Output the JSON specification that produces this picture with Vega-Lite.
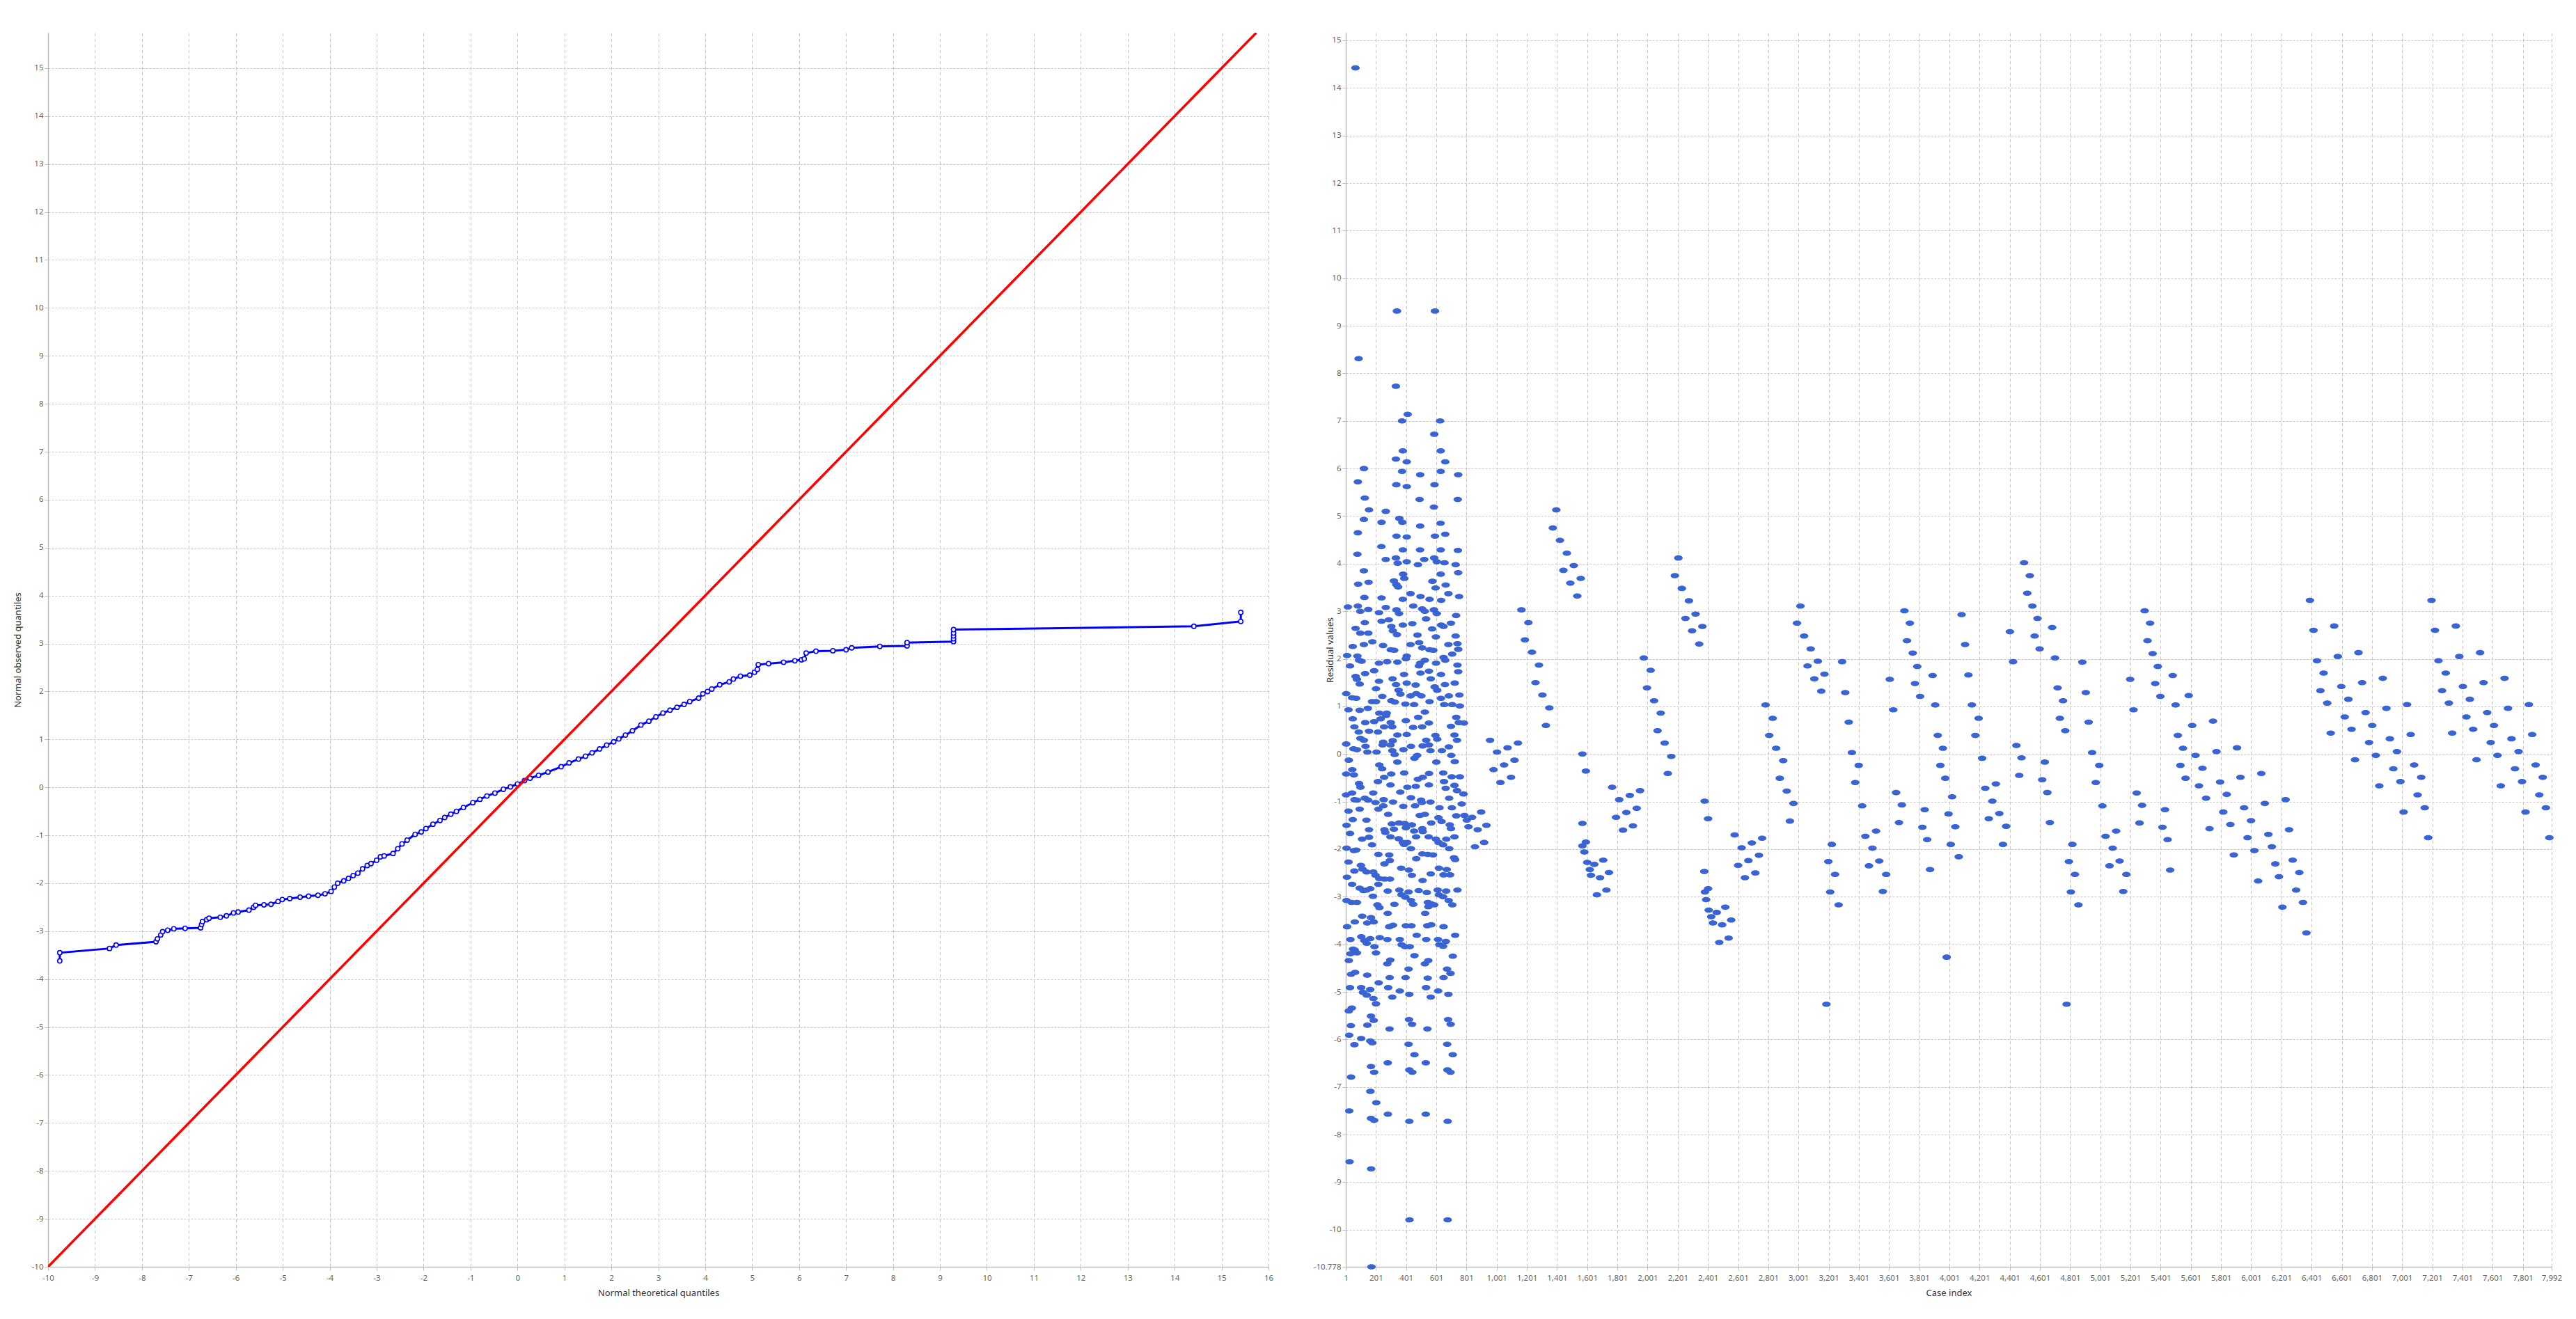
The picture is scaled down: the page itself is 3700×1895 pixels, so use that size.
{
  "$schema": "https://vega.github.io/schema/vega-lite/v6.json",
  "background": "white",
  "padding": {"left": 19, "top": 47, "right": 10, "bottom": 5},
  "spacing": 111,
  "bounds": "flush",
  "config": {
    "view": {"stroke": null},
    "axis": {
      "grid": true,
      "gridColor": "#c8c8c8",
      "gridWidth": 1,
      "domainColor": "#bbbbbb",
      "domainWidth": 1.5,
      "tickColor": "#bbbbbb",
      "tickSize": 5,
      "labelFont": "Noto Sans",
      "labelFontSize": 11.5,
      "labelColor": "#666666",
      "labelOverlap": false,
      "labelFlush": false,
      "titleFont": "Noto Sans",
      "titleFontSize": 13,
      "titleFontWeight": "normal",
      "titleColor": "#333333"
    }
  },
  "hconcat": [
    {
      "width": 1753,
      "height": 1773,
      "layer": [
        {
          "data": {"values": [
            {"k":1,"t":-9.75,"o":-3.62},{"k":2,"t":-9.75,"o":-3.45},{"k":3,"t":-8.69,"o":-3.36},{"k":4,"t":-8.55,"o":-3.29},
            {"k":5,"t":-7.70,"o":-3.22},{"k":6,"t":-7.67,"o":-3.16},{"k":7,"t":-7.60,"o":-3.08},{"k":8,"t":-7.56,"o":-3.01},
            {"k":9,"t":-7.45,"o":-2.98},{"k":10,"t":-7.32,"o":-2.95},{"k":11,"t":-7.08,"o":-2.94},{"k":12,"t":-6.75,"o":-2.93},
            {"k":13,"t":-6.73,"o":-2.86},{"k":14,"t":-6.71,"o":-2.80},{"k":15,"t":-6.62,"o":-2.76},{"k":16,"t":-6.57,"o":-2.73},
            {"k":17,"t":-6.33,"o":-2.71},{"k":18,"t":-6.20,"o":-2.68},{"k":19,"t":-6.05,"o":-2.62},{"k":20,"t":-5.95,"o":-2.60},
            {"k":21,"t":-5.72,"o":-2.56},{"k":22,"t":-5.62,"o":-2.50},{"k":23,"t":-5.58,"o":-2.46},{"k":24,"t":-5.40,"o":-2.45},
            {"k":25,"t":-5.25,"o":-2.44},{"k":26,"t":-5.10,"o":-2.38},{"k":27,"t":-5.01,"o":-2.34},{"k":28,"t":-4.85,"o":-2.32},
            {"k":29,"t":-4.63,"o":-2.29},{"k":30,"t":-4.45,"o":-2.27},{"k":31,"t":-4.25,"o":-2.25},{"k":32,"t":-4.10,"o":-2.22},
            {"k":33,"t":-3.97,"o":-2.17},{"k":34,"t":-3.90,"o":-2.08},{"k":35,"t":-3.83,"o":-2.00},{"k":36,"t":-3.70,"o":-1.95},
            {"k":37,"t":-3.60,"o":-1.90},{"k":38,"t":-3.50,"o":-1.84},{"k":39,"t":-3.40,"o":-1.79},{"k":40,"t":-3.30,"o":-1.70},
            {"k":41,"t":-3.20,"o":-1.63},{"k":42,"t":-3.12,"o":-1.59},{"k":43,"t":-3.00,"o":-1.52},{"k":44,"t":-2.92,"o":-1.45},
            {"k":45,"t":-2.84,"o":-1.43},{"k":46,"t":-2.65,"o":-1.38},{"k":47,"t":-2.55,"o":-1.28},{"k":48,"t":-2.46,"o":-1.18},
            {"k":49,"t":-2.35,"o":-1.10},{"k":50,"t":-2.18,"o":-0.98},{"k":51,"t":-2.05,"o":-0.93},{"k":52,"t":-1.95,"o":-0.86},
            {"k":53,"t":-1.80,"o":-0.77},{"k":54,"t":-1.65,"o":-0.69},{"k":55,"t":-1.55,"o":-0.63},{"k":56,"t":-1.42,"o":-0.56},
            {"k":57,"t":-1.30,"o":-0.50},{"k":58,"t":-1.15,"o":-0.42},{"k":59,"t":-0.95,"o":-0.32},{"k":60,"t":-0.80,"o":-0.25},
            {"k":61,"t":-0.65,"o":-0.18},{"k":62,"t":-0.48,"o":-0.12},{"k":63,"t":-0.30,"o":-0.04},{"k":64,"t":-0.15,"o":0.01},
            {"k":65,"t":0.00,"o":0.07},{"k":66,"t":0.15,"o":0.14},{"k":67,"t":0.27,"o":0.19},{"k":68,"t":0.45,"o":0.25},
            {"k":69,"t":0.65,"o":0.32},{"k":70,"t":0.93,"o":0.43},{"k":71,"t":1.10,"o":0.51},{"k":72,"t":1.30,"o":0.59},
            {"k":73,"t":1.45,"o":0.65},{"k":74,"t":1.59,"o":0.72},{"k":75,"t":1.75,"o":0.80},{"k":76,"t":1.90,"o":0.88},
            {"k":77,"t":2.05,"o":0.95},{"k":78,"t":2.16,"o":1.01},{"k":79,"t":2.30,"o":1.09},{"k":80,"t":2.45,"o":1.18},
            {"k":81,"t":2.63,"o":1.30},{"k":82,"t":2.80,"o":1.38},{"k":83,"t":2.95,"o":1.47},{"k":84,"t":3.10,"o":1.55},
            {"k":85,"t":3.25,"o":1.61},{"k":86,"t":3.40,"o":1.67},{"k":87,"t":3.55,"o":1.73},{"k":88,"t":3.67,"o":1.79},
            {"k":89,"t":3.86,"o":1.86},{"k":90,"t":3.95,"o":1.95},{"k":91,"t":4.05,"o":2.00},{"k":92,"t":4.14,"o":2.05},
            {"k":93,"t":4.31,"o":2.14},{"k":94,"t":4.51,"o":2.20},{"k":95,"t":4.60,"o":2.26},{"k":96,"t":4.75,"o":2.32},
            {"k":97,"t":4.95,"o":2.34},{"k":98,"t":5.05,"o":2.40},{"k":99,"t":5.11,"o":2.46},{"k":100,"t":5.13,"o":2.56},
            {"k":101,"t":5.35,"o":2.58},{"k":102,"t":5.67,"o":2.61},{"k":103,"t":5.91,"o":2.64},{"k":104,"t":6.05,"o":2.66},
            {"k":105,"t":6.11,"o":2.68},{"k":106,"t":6.15,"o":2.80},{"k":107,"t":6.36,"o":2.84},{"k":108,"t":6.72,"o":2.85},
            {"k":109,"t":7.00,"o":2.87},{"k":110,"t":7.12,"o":2.91},{"k":111,"t":7.72,"o":2.94},{"k":112,"t":8.30,"o":2.95},
            {"k":113,"t":8.30,"o":3.02},{"k":114,"t":9.29,"o":3.04},{"k":115,"t":9.29,"o":3.10},{"k":116,"t":9.29,"o":3.16},
            {"k":117,"t":9.29,"o":3.22},{"k":118,"t":9.29,"o":3.29},{"k":119,"t":14.41,"o":3.36},{"k":120,"t":15.41,"o":3.46},
            {"k":121,"t":15.41,"o":3.65}
          ]},
          "mark": {
            "type": "line",
            "color": "#0000ff",
            "strokeWidth": 3,
            "point": {"filled": true, "fill": "white", "stroke": "#0000ff", "strokeWidth": 1.6, "size": 40}
          },
          "encoding": {
            "x": {
              "field": "t", "type": "quantitative",
              "scale": {"domain": [-10, 16], "nice": false, "zero": false},
              "axis": {
                "title": "Normal theoretical quantiles",
                "grid": true,
                "values": [-10,-9,-8,-7,-6,-5,-4,-3,-2,-1,0,1,2,3,4,5,6,7,8,9,10,11,12,13,14,15,16],
                "labelExpr": "datum.value < 0 ? '-' + format(-datum.value, 'd') : format(datum.value, 'd')",
                "gridDash": [5, 3],
                "labelPadding": 5,
                "titlePadding": 10
              }
            },
            "y": {
              "field": "o", "type": "quantitative",
              "scale": {"domain": [-10, 15.74], "nice": false, "zero": false},
              "axis": {
                "title": "Normal observed quantiles",
                "grid": true,
                "values": [-10,-9,-8,-7,-6,-5,-4,-3,-2,-1,0,1,2,3,4,5,6,7,8,9,10,11,12,13,14,15],
                "labelExpr": "datum.value < 0 ? '-' + format(-datum.value, 'd') : format(datum.value, 'd')",
                "gridDash": [3, 2],
                "titleX": -37
              }
            },
            "order": {"field": "k", "type": "quantitative"}
          }
        },
        {
          "mark": {"type": "rule", "color": "#888888", "strokeWidth": 1.5},
          "encoding": {"y": {"datum": 0, "type": "quantitative"}}
        },
        {
          "data": {"values": [{"t": -10, "o": -10}, {"t": 15.74, "o": 15.74}]},
          "mark": {"type": "line", "color": "#ff0000", "strokeWidth": 3.5, "clip": true},
          "encoding": {
            "x": {"field": "t", "type": "quantitative"},
            "y": {"field": "o", "type": "quantitative"}
          }
        }
      ]
    },
    {
      "width": 1732,
      "height": 1773,
      "layer": [
        {
          "data": {"values": [
{"i":65,"r":14.42},{"i":340,"r":9.31},{"i":592,"r":9.31},{"i":86,"r":8.31},{"i":333,"r":7.73},{"i":374,"r":7.0},{"i":411,"r":7.14},{"i":626,"r":7.0},{"i":587,"r":6.72},{"i":379,"r":6.37},{"i":630,"r":6.37},{"i":121,"r":6.0},{"i":333,"r":6.2},{"i":405,"r":6.14},{"i":660,"r":6.14},{"i":374,"r":5.94},{"i":630,"r":5.94},{"i":494,"r":5.87},{"i":746,"r":5.87},{"i":81,"r":5.72},{"i":336,"r":5.66},{"i":405,"r":5.62},{"i":589,"r":5.66},{"i":127,"r":5.38},{"i":490,"r":5.35},{"i":743,"r":5.35},{"i":585,"r":5.19},{"i":155,"r":5.13},{"i":266,"r":5.10},{"i":121,"r":4.93},{"i":356,"r":4.95},{"i":238,"r":4.87},{"i":376,"r":4.87},{"i":629,"r":4.85},{"i":494,"r":4.79},{"i":81,"r":4.65},{"i":660,"r":4.62},{"i":337,"r":4.58},{"i":405,"r":4.56},{"i":592,"r":4.58},{"i":237,"r":4.36},{"i":379,"r":4.29},{"i":493,"r":4.29},{"i":630,"r":4.29},{"i":744,"r":4.28},{"i":78,"r":4.2},{"i":333,"r":4.12},{"i":266,"r":4.09},{"i":521,"r":4.09},{"i":587,"r":4.12},{"i":405,"r":4.04},{"i":345,"r":4.01},{"i":604,"r":4.04},{"i":655,"r":4.02},{"i":479,"r":3.98},{"i":729,"r":3.98},{"i":121,"r":3.85},{"i":381,"r":3.78},{"i":630,"r":3.78},{"i":746,"r":3.81},{"i":389,"r":3.69},{"i":152,"r":3.61},{"i":320,"r":3.64},{"i":575,"r":3.63},{"i":83,"r":3.57},{"i":336,"r":3.56},{"i":348,"r":3.51},{"i":596,"r":3.49},{"i":663,"r":3.55},{"i":430,"r":3.37},{"i":681,"r":3.37},{"i":124,"r":3.29},{"i":238,"r":3.28},{"i":379,"r":3.25},{"i":496,"r":3.31},{"i":556,"r":3.25},{"i":633,"r":3.23},{"i":752,"r":3.31},{"i":15,"r":3.09},{"i":81,"r":3.11},{"i":97,"r":3.0},{"i":150,"r":3.04},{"i":266,"r":3.08},{"i":221,"r":2.97},{"i":337,"r":3.03},{"i":448,"r":3.11},{"i":507,"r":3.05},{"i":525,"r":3.0},{"i":585,"r":3.03},{"i":604,"r":2.95},{"i":732,"r":2.91},{"i":238,"r":2.79},{"i":286,"r":2.82},{"i":354,"r":2.95},{"i":533,"r":2.84},{"i":698,"r":2.75},{"i":127,"r":2.76},{"i":442,"r":2.74},{"i":66,"r":2.64},{"i":303,"r":2.68},{"i":379,"r":2.71},{"i":573,"r":2.63},{"i":633,"r":2.71},{"i":649,"r":2.68},{"i":97,"r":2.54},{"i":150,"r":2.54},{"i":313,"r":2.59},{"i":340,"r":2.51},{"i":476,"r":2.50},{"i":598,"r":2.46},{"i":729,"r":2.48},{"i":47,"r":2.26},{"i":121,"r":2.30},{"i":177,"r":2.36},{"i":248,"r":2.28},{"i":430,"r":2.30},{"i":487,"r":2.34},{"i":507,"r":2.23},{"i":681,"r":2.30},{"i":741,"r":2.32},{"i":299,"r":2.19},{"i":322,"r":2.18},{"i":556,"r":2.19},{"i":581,"r":2.18},{"i":746,"r":2.20},{"i":10,"r":2.07},{"i":78,"r":2.06},{"i":89,"r":1.97},{"i":106,"r":1.95},{"i":221,"r":1.91},{"i":275,"r":1.94},{"i":343,"r":1.93},{"i":399,"r":2.0},{"i":405,"r":2.06},{"i":485,"r":1.85},{"i":494,"r":1.91},{"i":525,"r":1.97},{"i":599,"r":1.91},{"i":649,"r":2.03},{"i":660,"r":1.97},{"i":706,"r":2.10},{"i":741,"r":1.87},{"i":29,"r":1.85},{"i":189,"r":1.75},{"i":129,"r":1.69},{"i":66,"r":1.63},{"i":75,"r":1.57},{"i":93,"r":1.47},{"i":387,"r":1.67},{"i":496,"r":1.70},{"i":552,"r":1.74},{"i":632,"r":1.67},{"i":746,"r":1.73},{"i":221,"r":1.53},{"i":311,"r":1.58},{"i":334,"r":1.46},{"i":405,"r":1.49},{"i":464,"r":1.45},{"i":564,"r":1.58},{"i":658,"r":1.46},{"i":723,"r":1.49},{"i":201,"r":1.37},{"i":351,"r":1.34},{"i":468,"r":1.27},{"i":590,"r":1.41},{"i":607,"r":1.34},{"i":4,"r":1.27},{"i":243,"r":1.21},{"i":363,"r":1.26},{"i":430,"r":1.22},{"i":502,"r":1.22},{"i":632,"r":1.17},{"i":684,"r":1.22},{"i":754,"r":1.24},{"i":43,"r":1.18},{"i":70,"r":1.17},{"i":175,"r":1.10},{"i":201,"r":1.10},{"i":303,"r":1.12},{"i":326,"r":1.09},{"i":396,"r":1.05},{"i":454,"r":1.04},{"i":556,"r":1.10},{"i":653,"r":1.04},{"i":706,"r":1.04},{"i":757,"r":1.01},{"i":19,"r":0.93},{"i":93,"r":0.92},{"i":147,"r":0.96},{"i":223,"r":0.86},{"i":272,"r":0.86},{"i":525,"r":0.88},{"i":47,"r":0.74},{"i":232,"r":0.74},{"i":268,"r":0.81},{"i":481,"r":0.77},{"i":733,"r":0.77},{"i":299,"r":0.66},{"i":130,"r":0.66},{"i":189,"r":0.68},{"i":399,"r":0.70},{"i":552,"r":0.65},{"i":750,"r":0.66},{"i":784,"r":0.65},{"i":58,"r":0.57},{"i":255,"r":0.57},{"i":309,"r":0.57},{"i":447,"r":0.56},{"i":507,"r":0.57},{"i":698,"r":0.58},{"i":87,"r":0.46},{"i":155,"r":0.48},{"i":214,"r":0.46},{"i":343,"r":0.40},{"i":405,"r":0.41},{"i":595,"r":0.39},{"i":721,"r":0.40},{"i":98,"r":0.33},{"i":121,"r":0.29},{"i":249,"r":0.25},{"i":312,"r":0.28},{"i":534,"r":0.29},{"i":607,"r":0.31},{"i":738,"r":0.29},{"i":4,"r":0.21},{"i":132,"r":0.16},{"i":245,"r":0.19},{"i":297,"r":0.19},{"i":433,"r":0.16},{"i":510,"r":0.17},{"i":552,"r":0.19},{"i":684,"r":0.15},{"i":52,"r":0.11},{"i":75,"r":0.09},{"i":205,"r":0.04},{"i":144,"r":0.04},{"i":309,"r":0.07},{"i":383,"r":0.09},{"i":562,"r":0.07},{"i":638,"r":0.07},{"i":325,"r":-0.01},{"i":474,"r":-0.03},{"i":700,"r":-0.03},{"i":456,"r":-0.09},{"i":723,"r":-0.16},{"i":21,"r":-0.13},{"i":343,"r":-0.17},{"i":601,"r":-0.17},{"i":223,"r":-0.23},{"i":242,"r":-0.31},{"i":44,"r":-0.33},{"i":55,"r":-0.44},{"i":4,"r":-0.42},{"i":302,"r":-0.42},{"i":388,"r":-0.40},{"i":553,"r":-0.41},{"i":255,"r":-0.49},{"i":511,"r":-0.49},{"i":647,"r":-0.40},{"i":703,"r":-0.48},{"i":757,"r":-0.48},{"i":89,"r":-0.62},{"i":214,"r":-0.58},{"i":479,"r":-0.53},{"i":98,"r":-0.70},{"i":297,"r":-0.65},{"i":652,"r":-0.58},{"i":552,"r":-0.65},{"i":465,"r":-0.68},{"i":409,"r":-0.70},{"i":663,"r":-0.72},{"i":721,"r":-0.66},{"i":183,"r":-0.82},{"i":362,"r":-0.80},{"i":43,"r":-0.82},{"i":738,"r":-0.77},{"i":781,"r":-0.84},{"i":3,"r":-0.86},{"i":127,"r":-0.93},{"i":433,"r":-0.92},{"i":59,"r":-0.96},{"i":75,"r":-0.97},{"i":252,"r":-0.96},{"i":314,"r":-1.01},{"i":500,"r":-0.97},{"i":505,"r":-1.02},{"i":562,"r":-1.01},{"i":686,"r":-0.93},{"i":149,"r":-0.97},{"i":198,"r":-1.02},{"i":217,"r":-1.16},{"i":250,"r":-1.09},{"i":382,"r":-1.10},{"i":460,"r":-1.09},{"i":622,"r":-1.13},{"i":704,"r":-1.13},{"i":769,"r":-1.05},{"i":93,"r":-1.16},{"i":19,"r":-1.20},{"i":491,"r":-1.29},{"i":525,"r":-1.27},{"i":282,"r":-1.27},{"i":733,"r":-1.30},{"i":47,"r":-1.38},{"i":138,"r":-1.39},{"i":306,"r":-1.47},{"i":354,"r":-1.45},{"i":391,"r":-1.46},{"i":6,"r":-1.50},{"i":399,"r":-1.55},{"i":439,"r":-1.49},{"i":567,"r":-1.45},{"i":615,"r":-1.34},{"i":636,"r":-1.42},{"i":690,"r":-1.49},{"i":698,"r":-1.57},{"i":155,"r":-1.59},{"i":257,"r":-1.59},{"i":263,"r":-1.65},{"i":320,"r":-1.58},{"i":454,"r":-1.62},{"i":508,"r":-1.57},{"i":511,"r":-1.63},{"i":29,"r":-1.67},{"i":155,"r":-1.75},{"i":297,"r":-1.74},{"i":467,"r":-1.74},{"i":550,"r":-1.74},{"i":721,"r":-1.74},{"i":109,"r":-1.79},{"i":351,"r":-1.78},{"i":379,"r":-1.86},{"i":388,"r":-1.90},{"i":408,"r":-1.86},{"i":175,"r":-1.91},{"i":598,"r":-1.79},{"i":616,"r":-1.86},{"i":646,"r":-1.91},{"i":667,"r":-1.79},{"i":6,"r":-1.98},{"i":55,"r":-2.03},{"i":70,"r":-2.02},{"i":433,"r":-1.99},{"i":687,"r":-1.99},{"i":217,"r":-2.11},{"i":508,"r":-2.10},{"i":544,"r":-2.11},{"i":579,"r":-2.12},{"i":289,"r":-2.12},{"i":293,"r":-2.24},{"i":468,"r":-2.20},{"i":718,"r":-2.18},{"i":19,"r":-2.27},{"i":257,"r":-2.31},{"i":101,"r":-2.34},{"i":726,"r":-2.22},{"i":112,"r":-2.42},{"i":618,"r":-2.40},{"i":670,"r":-2.43},{"i":368,"r":-2.40},{"i":419,"r":-2.44},{"i":58,"r":-2.46},{"i":139,"r":-2.48},{"i":183,"r":-2.48},{"i":198,"r":-2.55},{"i":223,"r":-2.62},{"i":258,"r":-2.63},{"i":439,"r":-2.55},{"i":564,"r":-2.52},{"i":649,"r":-2.54},{"i":692,"r":-2.54},{"i":9,"r":-2.59},{"i":294,"r":-2.63},{"i":510,"r":-2.66},{"i":43,"r":-2.74},{"i":217,"r":-2.74},{"i":93,"r":-2.82},{"i":118,"r":-2.87},{"i":139,"r":-2.86},{"i":163,"r":-2.83},{"i":279,"r":-2.88},{"i":356,"r":-2.86},{"i":417,"r":-2.90},{"i":484,"r":-2.87},{"i":538,"r":-2.91},{"i":610,"r":-2.86},{"i":666,"r":-2.88},{"i":741,"r":-2.86},{"i":370,"r":-2.96},{"i":396,"r":-3.01},{"i":181,"r":-2.99},{"i":618,"r":-2.96},{"i":646,"r":-3.0},{"i":6,"r":-3.08},{"i":40,"r":-3.12},{"i":75,"r":-3.12},{"i":433,"r":-3.08},{"i":545,"r":-3.12},{"i":683,"r":-3.08},{"i":323,"r":-3.16},{"i":448,"r":-3.16},{"i":211,"r":-3.17},{"i":707,"r":-3.17},{"i":224,"r":-3.23},{"i":548,"r":-3.21},{"i":567,"r":-3.15},{"i":587,"r":-3.17},{"i":279,"r":-3.35},{"i":527,"r":-3.35},{"i":110,"r":-3.41},{"i":168,"r":-3.44},{"i":186,"r":-3.53},{"i":61,"r":-3.53},{"i":143,"r":-3.55},{"i":399,"r":-3.61},{"i":436,"r":-3.61},{"i":541,"r":-3.61},{"i":567,"r":-3.59},{"i":649,"r":-3.63},{"i":289,"r":-3.63},{"i":314,"r":-3.60},{"i":10,"r":-3.63},{"i":726,"r":-3.81},{"i":471,"r":-3.81},{"i":104,"r":-3.84},{"i":226,"r":-3.86},{"i":32,"r":-3.90},{"i":124,"r":-3.92},{"i":163,"r":-3.88},{"i":277,"r":-3.90},{"i":359,"r":-3.90},{"i":534,"r":-3.90},{"i":612,"r":-3.90},{"i":140,"r":-3.98},{"i":371,"r":-4.01},{"i":425,"r":-4.05},{"i":621,"r":-4.01},{"i":664,"r":-3.94},{"i":646,"r":-4.04},{"i":191,"r":-4.05},{"i":394,"r":-4.05},{"i":49,"r":-4.10},{"i":60,"r":-4.12},{"i":32,"r":-4.20},{"i":75,"r":-4.18},{"i":201,"r":-4.18},{"i":456,"r":-4.24},{"i":710,"r":-4.25},{"i":21,"r":-4.34},{"i":276,"r":-4.41},{"i":296,"r":-4.33},{"i":525,"r":-4.41},{"i":548,"r":-4.34},{"i":672,"r":-4.52},{"i":417,"r":-4.52},{"i":36,"r":-4.63},{"i":63,"r":-4.59},{"i":143,"r":-4.65},{"i":695,"r":-4.61},{"i":292,"r":-4.70},{"i":397,"r":-4.70},{"i":544,"r":-4.71},{"i":649,"r":-4.70},{"i":219,"r":-4.81},{"i":29,"r":-4.91},{"i":103,"r":-4.91},{"i":163,"r":-4.95},{"i":282,"r":-4.91},{"i":359,"r":-4.98},{"i":533,"r":-4.91},{"i":613,"r":-4.98},{"i":115,"r":-5.01},{"i":140,"r":-5.07},{"i":309,"r":-5.11},{"i":422,"r":-5.05},{"i":564,"r":-5.11},{"i":681,"r":-5.05},{"i":184,"r":-5.14},{"i":201,"r":-5.25},{"i":21,"r":-5.40},{"i":41,"r":-5.34},{"i":168,"r":-5.51},{"i":420,"r":-5.58},{"i":679,"r":-5.58},{"i":186,"r":-5.60},{"i":144,"r":-5.70},{"i":35,"r":-5.71},{"i":440,"r":-5.68},{"i":696,"r":-5.68},{"i":291,"r":-5.78},{"i":542,"r":-5.78},{"i":24,"r":-5.91},{"i":103,"r":-5.98},{"i":163,"r":-6.03},{"i":177,"r":-6.07},{"i":58,"r":-6.11},{"i":417,"r":-6.10},{"i":673,"r":-6.10},{"i":456,"r":-6.32},{"i":710,"r":-6.32},{"i":279,"r":-6.49},{"i":531,"r":-6.49},{"i":168,"r":-6.57},{"i":422,"r":-6.64},{"i":442,"r":-6.69},{"i":675,"r":-6.64},{"i":695,"r":-6.69},{"i":189,"r":-6.69},{"i":36,"r":-6.79},{"i":164,"r":-7.09},{"i":203,"r":-7.33},{"i":24,"r":-7.50},{"i":280,"r":-7.57},{"i":531,"r":-7.57},{"i":168,"r":-7.66},{"i":189,"r":-7.70},{"i":422,"r":-7.72},{"i":676,"r":-7.72},{"i":26,"r":-8.57},{"i":169,"r":-8.72},{"i":423,"r":-9.79},{"i":676,"r":-9.79},{"i":171,"r":-10.778},
{"i":787,"r":-1.29},{"i":803,"r":-1.39},{"i":814,"r":-1.53},{"i":838,"r":-1.33},{"i":857,"r":-1.95},{"i":875,"r":-1.59},{"i":898,"r":-1.22},{"i":918,"r":-1.86},{"i":933,"r":-1.50},{"i":957,"r":0.29},{"i":980,"r":-0.33},{"i":1003,"r":0.04},{"i":1026,"r":-0.60},{"i":1050,"r":-0.23},{"i":1073,"r":0.13},{"i":1096,"r":-0.49},{"i":1119,"r":-0.13},{"i":1142,"r":0.23},{"i":1165,"r":3.03},{"i":1188,"r":2.40},{"i":1211,"r":2.76},{"i":1235,"r":2.14},{"i":1258,"r":1.50},{"i":1281,"r":1.87},{"i":1304,"r":1.24},{"i":1327,"r":0.60},{"i":1350,"r":0.97},{"i":1373,"r":4.75},{"i":1396,"r":5.13},{"i":1420,"r":4.49},{"i":1443,"r":3.86},{"i":1466,"r":4.22},{"i":1489,"r":3.59},{"i":1512,"r":3.96},{"i":1535,"r":3.32},{"i":1558,"r":3.69},{"i":1569,"r":0.0},{"i":1592,"r":-0.36},{"i":1569,"r":-1.46},{"i":1569,"r":-1.93},{"i":1592,"r":-1.85},{"i":1582,"r":-2.06},
{"i":1601,"r":-2.28},{"i":1618,"r":-2.43},{"i":1626,"r":-2.55},{"i":1648,"r":-2.32},{"i":1665,"r":-2.96},{"i":1686,"r":-2.60},{"i":1707,"r":-2.23},{"i":1728,"r":-2.86},{"i":1745,"r":-2.49},{"i":1766,"r":-0.70},{"i":1792,"r":-1.33},{"i":1813,"r":-0.96},{"i":1838,"r":-1.60},{"i":1860,"r":-1.23},{"i":1883,"r":-0.87},{"i":1904,"r":-1.51},{"i":1929,"r":-1.14},{"i":1951,"r":-0.77},{"i":1976,"r":2.02},{"i":1997,"r":1.39},{"i":2021,"r":1.76},{"i":2044,"r":1.12},{"i":2067,"r":0.49},{"i":2088,"r":0.86},{"i":2114,"r":0.23},{"i":2135,"r":-0.41},{"i":2158,"r":-0.05},{"i":2182,"r":3.75},{"i":2205,"r":4.12},{"i":2228,"r":3.48},{"i":2252,"r":2.85},{"i":2275,"r":3.22},{"i":2296,"r":2.59},{"i":2319,"r":2.94},{"i":2343,"r":2.31},{"i":2364,"r":2.68},{"i":2379,"r":-0.99},{"i":2402,"r":-1.36},{"i":2377,"r":-2.47},{"i":2381,"r":-2.90},{"i":2402,"r":-2.83},{"i":2389,"r":-3.06},{"i":2406,"r":-3.28},{"i":2423,"r":-3.42},{"i":2434,"r":-3.55},{"i":2459,"r":-3.33},{"i":2476,"r":-3.96},{"i":2495,"r":-3.59},{"i":2516,"r":-3.22},{"i":2538,"r":-3.87},{"i":2555,"r":-3.49},{"i":2578,"r":-1.70},{"i":2601,"r":-2.34},{"i":2624,"r":-1.97},{"i":2646,"r":-2.60},{"i":2669,"r":-2.24},{"i":2692,"r":-1.87},{"i":2715,"r":-2.50},{"i":2739,"r":-2.13},{"i":2760,"r":-1.77},{"i":2783,"r":1.03},{"i":2807,"r":0.39},{"i":2830,"r":0.75},{"i":2853,"r":0.12},{"i":2877,"r":-0.51},{"i":2900,"r":-0.14},{"i":2923,"r":-0.78},{"i":2944,"r":-1.41},{"i":2968,"r":-1.04},{"i":2991,"r":2.75},{"i":3014,"r":3.11},{"i":3038,"r":2.48},{"i":3061,"r":1.85},{"i":3082,"r":2.21},{"i":3106,"r":1.58},{"i":3129,"r":1.95},{"i":3152,"r":1.32},{"i":3173,"r":1.68},{"i":3186,"r":-5.26},{"i":3199,"r":-2.26},{"i":3222,"r":-1.90},{"i":3211,"r":-2.90},{"i":3243,"r":-2.53},{"i":3267,"r":-3.17},{"i":3290,"r":1.94},{"i":3311,"r":1.29},{"i":3334,"r":0.67},{"i":3355,"r":0.03},{"i":3377,"r":-0.60},{"i":3400,"r":-0.24},{"i":3423,"r":-1.09},{"i":3444,"r":-1.73},{"i":3468,"r":-2.35},{"i":3491,"r":-1.98},{"i":3515,"r":-1.62},{"i":3536,"r":-2.25},{"i":3560,"r":-2.89},{"i":3582,"r":-2.53},{"i":3606,"r":1.57},{"i":3629,"r":0.93},{"i":3648,"r":-0.81},{"i":3667,"r":-1.44},{"i":3686,"r":-1.07},{"i":3703,"r":3.01},{"i":3739,"r":2.75},{"i":3720,"r":2.38},{"i":3758,"r":2.12},{"i":3788,"r":1.84},{"i":3773,"r":1.48},{"i":3807,"r":1.21},{"i":3822,"r":-1.54},{"i":3837,"r":-1.17},{"i":3854,"r":-1.80},{"i":3873,"r":-2.43},{"i":3890,"r":1.65},{"i":3907,"r":1.03},{"i":3924,"r":0.39},{"i":3941,"r":-0.24},{"i":3958,"r":0.12},{"i":3974,"r":-0.51},{"i":3995,"r":-1.26},{"i":4019,"r":-0.90},{"i":4040,"r":-1.53},{"i":3983,"r":-4.27},{"i":4010,"r":-1.90},{"i":4063,"r":-2.16},{"i":4082,"r":2.93},{"i":4105,"r":2.30},{"i":4127,"r":1.66},{"i":4150,"r":1.03},{"i":4173,"r":0.39},{"i":4195,"r":0.75},{"i":4218,"r":-0.09},{"i":4239,"r":-0.72},{"i":4262,"r":-1.36},{"i":4286,"r":-0.99},{"i":4309,"r":-0.63},{"i":4332,"r":-1.25},{"i":4356,"r":-1.90},{"i":4377,"r":-1.52},{"i":4402,"r":2.57},{"i":4423,"r":1.94},{"i":4445,"r":0.18},{"i":4464,"r":-0.45},{"i":4479,"r":-0.08},{"i":4496,"r":4.02},{"i":4534,"r":3.75},{"i":4517,"r":3.38},{"i":4551,"r":3.11},{"i":4585,"r":2.85},{"i":4566,"r":2.48},{"i":4599,"r":2.21},{"i":4616,"r":-0.54},{"i":4633,"r":-0.17},{"i":4650,"r":-0.81},{"i":4667,"r":-1.44},{"i":4682,"r":2.66},{"i":4701,"r":2.02},{"i":4718,"r":1.39},{"i":4754,"r":1.12},{"i":4733,"r":0.75},{"i":4769,"r":0.49},{"i":4778,"r":-5.26},{"i":4816,"r":-1.90},{"i":4793,"r":-2.26},{"i":4833,"r":-2.53},{"i":4806,"r":-2.90},{"i":4856,"r":-3.17},
{"i":4882,"r":1.93},{"i":4905,"r":1.29},{"i":4924,"r":0.67},{"i":4947,"r":0.03},{"i":4971,"r":-0.60},{"i":4994,"r":-0.24},{"i":5015,"r":-1.09},{"i":5036,"r":-1.73},{"i":5062,"r":-2.35},{"i":5083,"r":-1.98},{"i":5106,"r":-1.62},{"i":5129,"r":-2.25},{"i":5153,"r":-2.89},{"i":5174,"r":-2.53},{"i":5199,"r":1.57},{"i":5221,"r":0.93},{"i":5242,"r":-0.82},{"i":5261,"r":-1.45},{"i":5278,"r":-1.08},{"i":5295,"r":3.01},{"i":5331,"r":2.75},{"i":5314,"r":2.38},{"i":5348,"r":2.11},{"i":5382,"r":1.84},{"i":5365,"r":1.48},{"i":5399,"r":1.21},{"i":5413,"r":-1.54},{"i":5430,"r":-1.17},{"i":5447,"r":-1.80},{"i":5464,"r":-2.44},{"i":5481,"r":1.65},{"i":5500,"r":1.03},{"i":5515,"r":0.39},{"i":5532,"r":-0.24},{"i":5549,"r":0.12},{"i":5566,"r":-0.51},{"i":5587,"r":1.23},{"i":5610,"r":0.60},{"i":5632,"r":-0.03},{"i":5655,"r":-0.67},{"i":5678,"r":-0.30},{"i":5702,"r":-0.93},{"i":5725,"r":-1.57},{"i":5748,"r":0.69},{"i":5771,"r":0.05},{"i":5795,"r":-0.59},{"i":5816,"r":-1.22},{"i":5839,"r":-0.85},{"i":5863,"r":-1.48},{"i":5886,"r":-2.12},{"i":5907,"r":0.13},{"i":5930,"r":-0.49},{"i":5954,"r":-1.13},{"i":5977,"r":-1.76},{"i":6000,"r":-1.40},{"i":6022,"r":-2.03},{"i":6047,"r":-2.67},{"i":6068,"r":-0.41},{"i":6091,"r":-1.04},{"i":6115,"r":-1.69},{"i":6138,"r":-1.95},{"i":6161,"r":-2.31},{"i":6185,"r":-2.58},{"i":6208,"r":-3.22},{"i":6229,"r":-0.96},{"i":6252,"r":-1.59},{"i":6276,"r":-2.23},{"i":6299,"r":-2.86},{"i":6320,"r":-2.49},{"i":6344,"r":-3.12},{"i":6367,"r":-3.76},{"i":6390,"r":3.23},{"i":6414,"r":2.60},{"i":6437,"r":1.96},{"i":6460,"r":1.33},{"i":6481,"r":1.70},{"i":6505,"r":1.07},{"i":6528,"r":0.44},{"i":6551,"r":2.69},{"i":6575,"r":2.05},{"i":6598,"r":1.42},{"i":6621,"r":0.78},{"i":6645,"r":1.15},{"i":6666,"r":0.52},{"i":6689,"r":-0.12},{"i":6712,"r":2.13},{"i":6736,"r":1.50},{"i":6759,"r":0.87},{"i":6782,"r":0.24},{"i":6803,"r":0.60},{"i":6827,"r":-0.03},{"i":6850,"r":-0.67},{"i":6873,"r":1.59},{"i":6897,"r":0.96},{"i":6920,"r":0.32},{"i":6943,"r":-0.31},{"i":6967,"r":0.05},{"i":6990,"r":-0.58},{"i":7011,"r":-1.22},{"i":7034,"r":1.04},{"i":7058,"r":0.41},{"i":7081,"r":-0.23},{"i":7104,"r":-0.86},{"i":7128,"r":-0.49},{"i":7151,"r":-1.13},{"i":7174,"r":-1.76},{"i":7196,"r":3.23},{"i":7219,"r":2.60},{"i":7242,"r":1.96},{"i":7266,"r":1.33},{"i":7290,"r":1.70},{"i":7311,"r":1.07},{"i":7333,"r":0.44},{"i":7357,"r":2.69},{"i":7380,"r":2.05},{"i":7404,"r":1.42},{"i":7427,"r":0.78},{"i":7450,"r":1.15},{"i":7472,"r":0.52},{"i":7494,"r":-0.12},{"i":7518,"r":2.13},{"i":7541,"r":1.50},{"i":7565,"r":0.87},{"i":7588,"r":0.24},{"i":7610,"r":0.60},{"i":7633,"r":-0.03},{"i":7655,"r":-0.67},{"i":7680,"r":1.59},{"i":7703,"r":0.96},{"i":7726,"r":0.32},{"i":7749,"r":-0.31},{"i":7773,"r":0.05},{"i":7796,"r":-0.58},{"i":7819,"r":-1.22},{"i":7841,"r":1.04},{"i":7863,"r":0.41},{"i":7886,"r":-0.23},{"i":7910,"r":-0.86},{"i":7933,"r":-0.49},{"i":7954,"r":-1.13},{"i":7977,"r":-1.76}
          ]},
          "mark": {
            "type": "point",
            "shape": "M-1,0A1,0.62,0,1,1,1,0A1,0.62,0,1,1,-1,0Z",
            "filled": true,
            "color": "#3a63d3",
            "opacity": 1,
            "size": 150
          },
          "encoding": {
            "x": {
              "field": "i", "type": "quantitative",
              "scale": {"domain": [1, 7992], "nice": false, "zero": false},
              "axis": {
                "title": "Case index",
                "grid": true,
                "values": [1,201,401,601,801,1001,1201,1401,1601,1801,2001,2201,2401,2601,2801,3001,3201,3401,3601,3801,4001,4201,4401,4601,4801,5001,5201,5401,5601,5801,6001,6201,6401,6601,6801,7001,7201,7401,7601,7801,7992],
                "labelExpr": "format(datum.value, ',')",
                "gridDash": [5, 3],
                "labelPadding": 5,
                "titlePadding": 10
              }
            },
            "y": {
              "field": "r", "type": "quantitative",
              "scale": {"domain": [-10.778, 15.16], "nice": false, "zero": false},
              "axis": {
                "title": "Residual values",
                "grid": true,
                "values": [-10.778,-10,-9,-8,-7,-6,-5,-4,-3,-2,-1,0,1,2,3,4,5,6,7,8,9,10,11,12,13,14,15],
                "labelExpr": "datum.value < 0 ? '-' + format(-datum.value, '.4~f') : format(datum.value, '.4~f')",
                "gridDash": [3, 2],
                "titleX": -16
              }
            }
          }
        },
        {
          "mark": {"type": "rule", "color": "#aaaaaa", "strokeWidth": 1.2},
          "encoding": {"y": {"datum": 0, "type": "quantitative"}}
        }
      ]
    }
  ]
}
